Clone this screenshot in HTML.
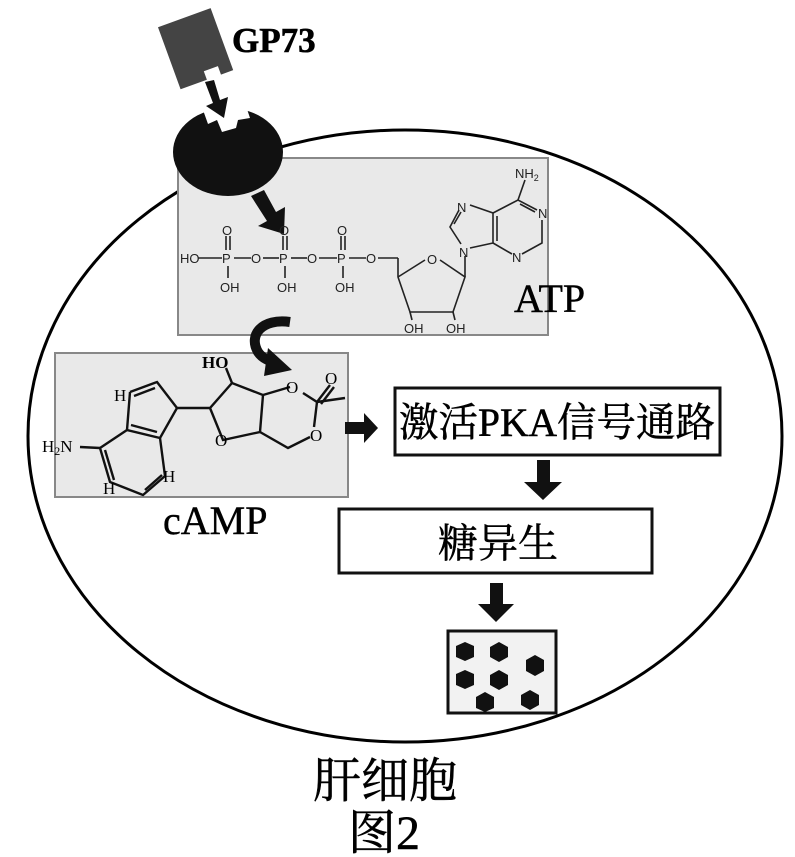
<!DOCTYPE html>
<html><head><meta charset="utf-8"><style>
html,body{margin:0;padding:0;background:#fff;}
svg{display:block;}
.s{font-family:"Liberation Serif","Noto Serif CJK SC",serif;}
.a{font-family:"Liberation Sans",sans-serif;font-size:13px;fill:#222;}
</style></head><body>
<svg width="795" height="857" viewBox="0 0 795 857" xmlns="http://www.w3.org/2000/svg">
<ellipse cx="405" cy="436" rx="377" ry="306" fill="none" stroke="#000" stroke-width="3"/>
<rect x="178" y="158" width="370" height="177" fill="#e9e9e9" stroke="#888" stroke-width="2"/>
<ellipse cx="228" cy="152" rx="55" ry="44" fill="#111"/>
<path d="M203,110 L208,124 L217,120 L222,132 L236,128 L238,120 L250,118 L246,106 Z" fill="#fff"/>
<g transform="rotate(-20 195 50)">
<path d="M168,16 L224,16 L224,82 L211,82 L211,73 L196,73 L196,82 L168,82 Z" fill="#444"/>
</g>
<text x="232" y="52" class="s" font-size="35" font-weight="bold" stroke="#000" stroke-width="0.6">GP73</text>
<path d="M205,82 L214,80 L220,100 L228,97 L224,118 L206,106 L213,103 Z" fill="#111"/>
<path d="M251,196 L264,190 L276,212 L285,207 L284,234 L258,226 L267,221 Z" fill="#111"/>
<g stroke="#222" stroke-width="1.6" fill="none">
<line x1="198" y1="258" x2="222" y2="258"/><line x1="234" y1="258" x2="251" y2="258"/><line x1="263" y1="258" x2="279" y2="258"/>
<line x1="291" y1="258" x2="307" y2="258"/><line x1="319" y1="258" x2="337" y2="258"/><line x1="349" y1="258" x2="366" y2="258"/>
<line x1="378" y1="258" x2="398" y2="258"/>
<line x1="226" y1="236" x2="226" y2="250"/><line x1="230" y1="236" x2="230" y2="250"/>
<line x1="283" y1="236" x2="283" y2="250"/><line x1="287" y1="236" x2="287" y2="250"/>
<line x1="341" y1="236" x2="341" y2="250"/><line x1="345" y1="236" x2="345" y2="250"/>
<line x1="228" y1="266" x2="228" y2="278"/><line x1="285" y1="266" x2="285" y2="278"/><line x1="343" y1="266" x2="343" y2="278"/>
<polyline points="398,258 398,277 410,312 453,312 465,277 440,260"/>
<line x1="398" y1="277" x2="425" y2="260"/>
<line x1="410" y1="312" x2="412" y2="320"/><line x1="453" y1="312" x2="455" y2="320"/>
<line x1="465" y1="277" x2="465" y2="256"/>
<polyline points="470,248 493,243 493,213 470,205"/>
<polyline points="459,210 450,227 461,244"/>
<line x1="454" y1="224" x2="461" y2="212"/>
<polyline points="493,213 518,200 537,210"/>
<line x1="497" y1="216" x2="497" y2="241"/>
<line x1="518" y1="200" x2="525" y2="180"/>
<polyline points="542,220 542,243 522,254"/>
<line x1="493" y1="243" x2="512" y2="254"/>
<line x1="520" y1="204" x2="535" y2="212"/>
</g>
<g class="a">
<text x="180" y="263">HO</text>
<text x="222" y="263">P</text><text x="279" y="263">P</text><text x="337" y="263">P</text>
<text x="251" y="263">O</text><text x="307" y="263">O</text><text x="366" y="263">O</text>
<text x="222" y="235">O</text><text x="279" y="235">O</text><text x="337" y="235">O</text>
<text x="220" y="292">OH</text><text x="277" y="292">OH</text><text x="335" y="292">OH</text>
<text x="427" y="264">O</text>
<text x="404" y="333">OH</text><text x="446" y="333">OH</text>
<text x="459" y="257">N</text><text x="457" y="212">N</text><text x="538" y="218">N</text><text x="512" y="262">N</text>
<text x="515" y="178">NH<tspan font-size="9" dy="3">2</tspan></text>
</g>
<text x="514" y="312" class="s" font-size="40" stroke="#000" stroke-width="0.4">ATP</text>
<rect x="55" y="353" width="293" height="144" fill="#e9e9e9" stroke="#888" stroke-width="2"/>
<path d="M290,322 C262,318 248,335 258,352 C262,358 270,362 276,362" fill="none" stroke="#111" stroke-width="10"/>
<path d="M268,348 L292,370 L264,376 Z" fill="#111"/>
<g stroke="#111" stroke-width="2.4" fill="none">
<polyline points="130,392 157,382 177,408 160,438 127,430 130,392"/>
<line x1="134" y1="396" x2="155" y2="388"/>
<line x1="131" y1="425" x2="157" y2="432"/>
<polyline points="127,430 100,448 110,482 143,495 165,476 160,438"/>
<line x1="105" y1="450" x2="114" y2="480"/>
<line x1="145" y1="490" x2="162" y2="475"/>
<line x1="80" y1="447" x2="100" y2="448"/>
<polyline points="177,408 210,408 232,383 263,395 260,432 223,440 210,408"/>
<line x1="232" y1="383" x2="226" y2="368"/>
<polyline points="263,395 290,387"/>
<polyline points="303,393 317,402 314,427"/>
<polyline points="260,432 288,448 310,437"/>
<line x1="317" y1="402" x2="330" y2="385"/><line x1="321" y1="404" x2="334" y2="387"/>
<line x1="317" y1="402" x2="345" y2="398"/>
</g>
<g class="s" font-size="17">
<text x="114" y="401">H</text><text x="42" y="452">H<tspan font-size="12" dy="3">2</tspan><tspan dy="-3">N</tspan></text>
<text x="103" y="494">H</text><text x="163" y="482">H</text>
<text x="202" y="368" font-weight="bold">HO</text>
<text x="215" y="446">O</text><text x="286" y="393">O</text><text x="325" y="384">O</text><text x="310" y="441">O</text>
</g>
<text x="163" y="534" class="s" font-size="40" stroke="#000" stroke-width="0.4">cAMP</text>
<path d="M345,422 L364,422 L364,413 L378,428 L364,443 L364,434 L345,434 Z" fill="#111"/>
<rect x="395" y="388" width="325" height="67" fill="#fff" stroke="#111" stroke-width="3"/>
<text x="557" y="436" class="s" font-size="40" text-anchor="middle" textLength="316" lengthAdjust="spacingAndGlyphs" stroke="#000" stroke-width="0.5">激活PKA信号通路</text>
<path d="M537,460 L550,460 L550,482 L562,482 L543,500 L524,482 L537,482 Z" fill="#111"/>
<rect x="339" y="509" width="313" height="64" fill="#fff" stroke="#111" stroke-width="3"/>
<text x="498" y="557" class="s" font-size="40" text-anchor="middle" stroke="#000" stroke-width="0.5">糖异生</text>
<path d="M490,583 L503,583 L503,604 L514,604 L496,622 L478,604 L490,604 Z" fill="#111"/>
<rect x="448" y="631" width="108" height="82" fill="#f2f2f2" stroke="#111" stroke-width="3"/>
<g fill="#111">
<polygon points="465,642 474,646 474,657 465,661 456,657 456,646"/>
<polygon points="499,642 508,647 508,657 499,662 490,657 490,647"/>
<polygon points="535,655 544,660 544,671 535,676 526,671 526,660"/>
<polygon points="465,670 474,674 474,685 465,689 456,685 456,674"/>
<polygon points="499,670 508,675 508,685 499,690 490,685 490,675"/>
<polygon points="485,692 494,697 494,708 485,712 476,708 476,697"/>
<polygon points="530,690 539,695 539,705 530,710 521,705 521,695"/>
</g>
<text x="385" y="797" class="s" font-size="48" text-anchor="middle" stroke="#000" stroke-width="0.5">肝细胞</text>
<text x="384" y="849" class="s" font-size="48" text-anchor="middle" stroke="#000" stroke-width="0.5">图2</text>
</svg>
</body></html>
